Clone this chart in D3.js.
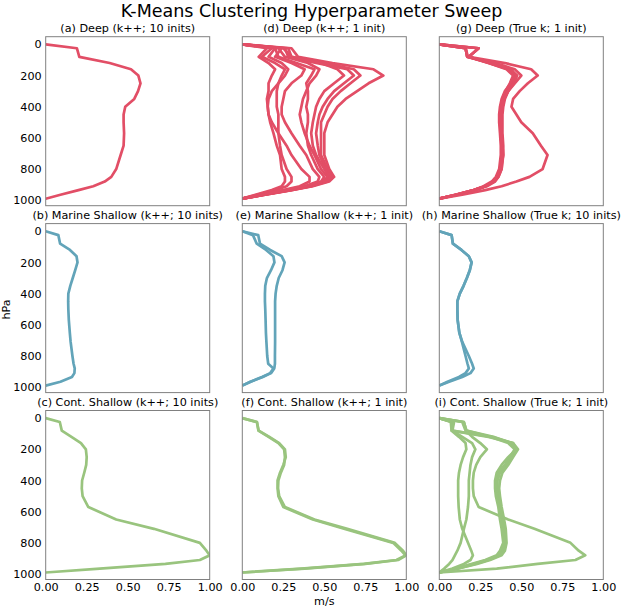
<!DOCTYPE html>
<html>
<head>
<meta charset="utf-8">
<script src="https://cdn.jsdelivr.net/npm/d3@7"></script>
<style>
  body { margin: 0; background: #fff; }
  svg { display: block; font-family: "DejaVu Sans", sans-serif; }
</style>
</head>
<body>
<svg id="chart" width="623" height="608"></svg>
<script>
// ----------------- DATA ----------------- //
const pressureLevels = [0, 25, 80, 120, 160, 200, 250, 300, 350, 400, 450, 500, 570, 650, 710, 800, 850, 880, 910, 935, 965, 990];

const deepKpp10 = [
    [0, 0.19, 0.205, 0.39, 0.52, 0.565, 0.578, 0.563, 0.54, 0.485, 0.475, 0.475, 0.478, 0.475, 0.457, 0.43, 0.40, 0.36, 0.29, 0.20, 0.09, 0]
];
const marineKpp10 = [
    [0, 0.077, 0.088, 0.148, 0.188, 0.194, 0.18, 0.165, 0.15, 0.138, 0.137, 0.138, 0.141, 0.147, 0.152, 0.163, 0.17, 0.177, 0.175, 0.16, 0.09, 0]
];
const contKpp10 = [
    [0, 0.086, 0.098, 0.157, 0.215, 0.245, 0.25, 0.247, 0.235, 0.222, 0.22, 0.225, 0.26, 0.43, 0.66, 0.94, 0.98, 1.0, 0.94, 0.73, 0.33, 0]
];
const deepKpp1 = [
    [0, 0.30, 0.34, 0.55, 0.80, 0.86, 0.77, 0.70, 0.63, 0.58, 0.55, 0.52, 0.50, 0.50, 0.50, 0.53, 0.56, 0.53, 0.43, 0.30, 0.14, 0],
    [0, 0.28, 0.30, 0.50, 0.68, 0.72, 0.66, 0.60, 0.55, 0.52, 0.50, 0.48, 0.48, 0.48, 0.48, 0.52, 0.55, 0.52, 0.42, 0.30, 0.14, 0],
    [0, 0.26, 0.28, 0.45, 0.64, 0.68, 0.62, 0.56, 0.52, 0.49, 0.47, 0.46, 0.45, 0.46, 0.47, 0.51, 0.54, 0.51, 0.42, 0.29, 0.13, 0],
    [0, 0.25, 0.30, 0.48, 0.58, 0.62, 0.56, 0.50, 0.47, 0.45, 0.44, 0.43, 0.42, 0.43, 0.45, 0.50, 0.53, 0.50, 0.41, 0.29, 0.13, 0],
    [0, 0.22, 0.26, 0.40, 0.47, 0.45, 0.41, 0.39, 0.37, 0.36, 0.35, 0.36, 0.38, 0.41, 0.44, 0.48, 0.52, 0.49, 0.40, 0.28, 0.13, 0],
    [0, 0.20, 0.22, 0.33, 0.44, 0.42, 0.39, 0.40, 0.40, 0.39, 0.40, 0.40, 0.39, 0.40, 0.42, 0.46, 0.50, 0.48, 0.39, 0.27, 0.12, 0],
    [0, 0.24, 0.20, 0.30, 0.38, 0.36, 0.30, 0.26, 0.25, 0.24, 0.24, 0.26, 0.30, 0.35, 0.39, 0.43, 0.47, 0.46, 0.38, 0.26, 0.12, 0],
    [0, 0.18, 0.12, 0.20, 0.26, 0.24, 0.22, 0.21, 0.21, 0.21, 0.22, 0.22, 0.22, 0.23, 0.24, 0.27, 0.30, 0.30, 0.27, 0.20, 0.09, 0],
    [0, 0.15, 0.10, 0.16, 0.20, 0.18, 0.16, 0.16, 0.15, 0.155, 0.16, 0.17, 0.19, 0.21, 0.23, 0.24, 0.26, 0.26, 0.24, 0.18, 0.08, 0],
    [0, 0.20, 0.16, 0.24, 0.28, 0.26, 0.22, 0.18, 0.16, 0.155, 0.16, 0.18, 0.22, 0.27, 0.30, 0.36, 0.41, 0.41, 0.35, 0.25, 0.11, 0]
];
const marineKpp1 = [
    [0, 0.097, 0.108, 0.17, 0.24, 0.258, 0.245, 0.222, 0.21, 0.203, 0.20, 0.20, 0.20, 0.20, 0.20, 0.199, 0.199, 0.195, 0.175, 0.125, 0.05, 0],
    [0, 0.065, 0.088, 0.145, 0.19, 0.196, 0.175, 0.15, 0.14, 0.138, 0.138, 0.14, 0.142, 0.144, 0.147, 0.152, 0.158, 0.19, 0.17, 0.12, 0.05, 0]
];
const contKpp1 = [
    [0, 0.09, 0.098, 0.16, 0.22, 0.255, 0.26, 0.255, 0.235, 0.22, 0.218, 0.225, 0.26, 0.44, 0.64, 0.93, 0.98, 1.0, 0.95, 0.75, 0.38, 0],
    [0, 0.088, 0.10, 0.165, 0.225, 0.26, 0.265, 0.25, 0.23, 0.215, 0.215, 0.22, 0.25, 0.43, 0.62, 0.92, 0.97, 0.995, 0.94, 0.74, 0.36, 0]
];
const deepTrue1 = [
    [0, 0.16, 0.17, 0.30, 0.42, 0.46, 0.44, 0.41, 0.39, 0.38, 0.375, 0.375, 0.375, 0.38, 0.38, 0.37, 0.35, 0.33, 0.28, 0.22, 0.11, 0],
    [0, 0.24, 0.18, 0.31, 0.43, 0.47, 0.45, 0.42, 0.40, 0.39, 0.385, 0.385, 0.385, 0.39, 0.39, 0.375, 0.355, 0.33, 0.28, 0.21, 0.10, 0],
    [0, 0.16, 0.175, 0.32, 0.44, 0.465, 0.435, 0.40, 0.38, 0.37, 0.365, 0.365, 0.37, 0.375, 0.375, 0.365, 0.345, 0.32, 0.27, 0.21, 0.10, 0],
    [0, 0.24, 0.18, 0.30, 0.41, 0.45, 0.43, 0.405, 0.385, 0.375, 0.37, 0.37, 0.38, 0.385, 0.385, 0.38, 0.36, 0.34, 0.29, 0.22, 0.11, 0],
    [0, 0.16, 0.17, 0.31, 0.43, 0.475, 0.455, 0.42, 0.395, 0.385, 0.38, 0.38, 0.38, 0.385, 0.39, 0.38, 0.36, 0.335, 0.28, 0.21, 0.10, 0],
    [0, 0.16, 0.17, 0.34, 0.46, 0.50, 0.46, 0.42, 0.39, 0.38, 0.375, 0.375, 0.375, 0.38, 0.385, 0.37, 0.35, 0.33, 0.28, 0.21, 0.10, 0],
    [0, 0.24, 0.18, 0.40, 0.56, 0.60, 0.54, 0.49, 0.45, 0.44, 0.47, 0.50, 0.57, 0.62, 0.66, 0.63, 0.55, 0.47, 0.38, 0.28, 0.14, 0]
];
const marineTrue10 = [
    [0, 0.075, 0.083, 0.135, 0.18, 0.197, 0.186, 0.168, 0.148, 0.125, 0.11, 0.11, 0.112, 0.122, 0.14, 0.18, 0.20, 0.21, 0.19, 0.14, 0.06, 0],
    [0, 0.075, 0.083, 0.135, 0.18, 0.197, 0.186, 0.168, 0.148, 0.125, 0.11, 0.11, 0.112, 0.122, 0.138, 0.16, 0.172, 0.18, 0.16, 0.12, 0.05, 0]
];
const contTrue1 = [
    [0, 0.15, 0.165, 0.33, 0.44, 0.47, 0.44, 0.41, 0.37, 0.355, 0.355, 0.36, 0.375, 0.39, 0.40, 0.405, 0.39, 0.37, 0.30, 0.22, 0.11, 0],
    [0, 0.08, 0.075, 0.30, 0.45, 0.48, 0.45, 0.42, 0.385, 0.37, 0.365, 0.37, 0.38, 0.395, 0.405, 0.41, 0.40, 0.38, 0.31, 0.23, 0.11, 0],
    [0, 0.15, 0.165, 0.31, 0.42, 0.46, 0.43, 0.40, 0.36, 0.345, 0.345, 0.35, 0.365, 0.38, 0.39, 0.395, 0.38, 0.36, 0.29, 0.21, 0.10, 0],
    [0, 0.08, 0.08, 0.32, 0.45, 0.47, 0.42, 0.38, 0.35, 0.34, 0.34, 0.345, 0.36, 0.37, 0.38, 0.39, 0.37, 0.35, 0.28, 0.20, 0.10, 0],
    [0, 0.07, 0.075, 0.12, 0.16, 0.165, 0.145, 0.13, 0.12, 0.115, 0.115, 0.115, 0.118, 0.125, 0.14, 0.175, 0.195, 0.205, 0.19, 0.15, 0.08, 0],
    [0, 0.09, 0.08, 0.14, 0.20, 0.22, 0.20, 0.19, 0.185, 0.18, 0.18, 0.18, 0.175, 0.165, 0.15, 0.13, 0.11, 0.095, 0.08, 0.06, 0.03, 0],
    [0, 0.14, 0.16, 0.20, 0.25, 0.29, 0.25, 0.225, 0.21, 0.205, 0.205, 0.21, 0.24, 0.42, 0.58, 0.80, 0.85, 0.89, 0.83, 0.60, 0.35, 0]
];

const panelTitles = [
    "(a) Deep (k++; 10 inits)", "(b) Marine Shallow (k++; 10 inits)", "(c) Cont. Shallow (k++; 10 inits)",
    "(d) Deep (k++; 1 init)", "(e) Marine Shallow (k++; 1 init)", "(f) Cont. Shallow (k++; 1 init)",
    "(g) Deep (True k; 1 init)", "(h) Marine Shallow (True k; 10 inits)", "(i) Cont. Shallow (True k; 1 init)"
];
const panelProfiles = [deepKpp10, marineKpp10, contKpp10, deepKpp1, marineKpp1, contKpp1, deepTrue1, marineTrue10, contTrue1];
const regimeColors = ["#e24e66", "#62a4b9", "#99c47e"];

const yTicks = [0, 200, 400, 600, 800, 1000];
const xTicks = [0, 0.25, 0.5, 0.75, 1];

// ----------------- LAYOUT ----------------- //
const colLeft = [45.7, 242.3, 439.3];
const rowTop = [36.7, 223.6, 410.5];
const panelW = 164;
const panelH = 169;

const svg = d3.select('#chart');
svg.append('rect').attr('width', 623).attr('height', 608).attr('fill', '#fff');

svg.append('text')
    .attr('x', 311.5).attr('y', 17)
    .attr('text-anchor', 'middle')
    .attr('font-size', 17.5)
    .text('K-Means Clustering Hyperparameter Sweep');

const x = d3.scaleLinear().domain([0, 1]).range([0, panelW]);
const y = d3.scaleLinear().domain([-49, 1035]).range([0, panelH]);

const line = d3.line()
    .x(d => x(d[0]))
    .y(d => y(d[1]));

panelProfiles.forEach(function (profiles, i) {
    const col = Math.floor(i / 3);
    const row = i % 3;
    const g = svg.append('g')
        .attr('transform', 'translate(' + colLeft[col] + ',' + rowTop[row] + ')');

    g.append('clipPath').attr('id', 'clip' + i)
        .append('rect').attr('width', panelW).attr('height', panelH);

    // one path per cluster-centre profile
    g.append('g')
        .attr('clip-path', 'url(#clip' + i + ')')
        .selectAll('path')
        .data(profiles)
        .join('path')
        .attr('d', u => line(u.map((v, k) => [v, pressureLevels[k]])))
        .attr('fill', 'none')
        .attr('stroke', regimeColors[row])
        .attr('stroke-width', 2.7)
        .attr('stroke-linejoin', 'round');

    g.append('rect')
        .attr('width', panelW).attr('height', panelH)
        .attr('fill', 'none')
        .attr('stroke', '#808080')
        .attr('stroke-width', 1);

    g.append('text')
        .attr('x', panelW / 2).attr('y', -5)
        .attr('text-anchor', 'middle')
        .attr('font-size', 11.2)
        .text(panelTitles[i]);

    if (col === 0) {
        const ya = g.append('g')
            .call(d3.axisLeft(y).tickValues(yTicks).tickFormat(d3.format('d')).tickSize(0).tickPadding(4));
        ya.select('.domain').remove();
        ya.selectAll('text').attr('font-size', 11.2).attr('font-family', 'DejaVu Sans').attr('fill', '#000');
    }
    if (row === 2) {
        const xa = g.append('g')
            .attr('transform', 'translate(0,' + panelH + ')')
            .call(d3.axisBottom(x).tickValues(xTicks).tickFormat(d3.format('.2f')).tickSize(0).tickPadding(4));
        xa.select('.domain').remove();
        xa.selectAll('text').attr('font-size', 11.2).attr('font-family', 'DejaVu Sans').attr('fill', '#000');
    }
});

svg.append('text')
    .attr('transform', 'translate(10,309.5) rotate(-90)')
    .attr('text-anchor', 'middle')
    .attr('font-size', 11.2)
    .text('hPa');

svg.append('text')
    .attr('x', colLeft[1] + panelW / 2).attr('y', 605)
    .attr('text-anchor', 'middle')
    .attr('font-size', 11.2)
    .text('m/s');
</script>
</body>
</html>
